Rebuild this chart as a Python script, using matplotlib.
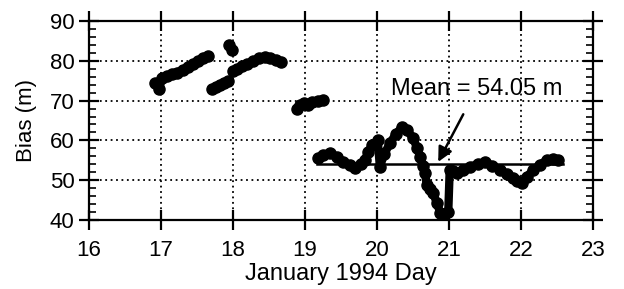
import matplotlib.pyplot as plt
from matplotlib.ticker import MultipleLocator

plt.rcParams['font.family'] = ['Liberation Sans', 'DejaVu Sans']

# Bias segments (day, metres)
seg1_day = [16.92, 16.97, 17.02, 17.08, 17.15, 17.22, 17.30, 17.38, 17.45, 17.52, 17.58, 17.65]
seg1_bias = [74.5, 72.8, 75.8, 76.3, 76.6, 77.0, 77.8, 78.4, 79.2, 80.0, 80.8, 81.3]

seg2_day = [17.71, 17.76, 17.82, 17.88, 17.93]
seg2_bias = [73.0, 73.4, 73.8, 74.3, 75.0]

seg3_day = [17.95, 17.98]
seg3_bias = [84.0, 82.8]

seg4_day = [18.00, 18.06, 18.12, 18.20, 18.28, 18.36, 18.44, 18.52, 18.60, 18.66]
seg4_bias = [77.5, 78.0, 78.6, 79.2, 80.0, 80.6, 80.9, 80.8, 80.3, 79.8]

seg5_day = [18.89, 18.93, 18.98, 19.04, 19.10, 19.18, 19.25]
seg5_bias = [67.8, 68.8, 69.3, 69.0, 69.6, 70.0, 70.2]

seg6_day = [19.18, 19.25, 19.35, 19.45, 19.53, 19.62, 19.70, 19.78, 19.83, 19.88, 19.93,
            20.01, 20.04, 20.10, 20.18, 20.26, 20.35, 20.42, 20.50, 20.56, 20.60, 20.64,
            20.67, 20.69, 20.74, 20.78, 20.83, 20.88, 20.93, 20.99, 21.01, 21.06, 21.11,
            21.20, 21.29, 21.40, 21.50, 21.60, 21.71, 21.80, 21.89, 21.95, 22.01, 22.08,
            22.17, 22.26, 22.36, 22.44, 22.51]
seg6_bias = [55.6, 56.4, 56.8, 55.8, 54.6, 53.8, 53.1, 54.0, 55.1, 57.0, 58.8,
             60.1, 53.4, 56.5, 59.3, 61.5, 63.4, 62.5, 60.6, 58.0, 55.8, 53.5,
             51.8, 48.8, 47.8, 46.8, 44.3, 41.8, 41.5, 42.0, 52.6, 52.2, 51.8,
             52.6, 53.4, 54.0, 54.6, 53.6, 52.6, 51.6, 50.6, 49.8, 49.3, 50.8,
             52.6, 53.8, 55.1, 55.4, 55.1]

mean_bias = 54.05
mean_day = [19.17, 22.58]

fig = plt.figure(figsize=(6.24, 2.89), dpi=100)
ax = fig.add_axes([0.1426, 0.2388, 0.8077, 0.6885])

for d, b in [(seg1_day, seg1_bias), (seg2_day, seg2_bias), (seg3_day, seg3_bias),
             (seg4_day, seg4_bias), (seg5_day, seg5_bias), (seg6_day, seg6_bias)]:
    ax.plot(d, b, color='black', lw=6, marker='o', ms=8, solid_capstyle='round', zorder=3)

ax.plot(mean_day, [mean_bias, mean_bias], color='black', lw=1.8, zorder=4)

ax.annotate(f"Mean = {mean_bias:.2f} m", xy=(20.85, 54.6), xytext=(21.38, 72.8),
            ha='center', va='center', fontsize=17, zorder=5,
            arrowprops=dict(arrowstyle='-|>', color='black', lw=1.8, mutation_scale=22,
                            shrinkA=9, shrinkB=0))

ax.set_xlim(16, 23)
ax.set_ylim(40, 90)
ax.xaxis.set_major_locator(MultipleLocator(1))
ax.yaxis.set_major_locator(MultipleLocator(10))
ax.yaxis.set_minor_locator(MultipleLocator(2))
ax.grid(True, which='major', linestyle=(0, (1, 2)), color='black', lw=1.3)

for s in ax.spines.values():
    s.set_linewidth(1.6)
ax.tick_params(which='major', direction='inout', length=15, width=1.6, labelsize=16,
               top=True, right=True, pad=3)
ax.tick_params(axis='x', which='major', pad=7)
ax.tick_params(which='minor', direction='in', length=5, width=1.2, left=True, right=True)

ax.set_xlabel("January 1994 Day", fontsize=17, labelpad=1)
ax.set_ylabel("Bias (m)", fontsize=16, labelpad=9)

fig.savefig("out.png", dpi=100)
